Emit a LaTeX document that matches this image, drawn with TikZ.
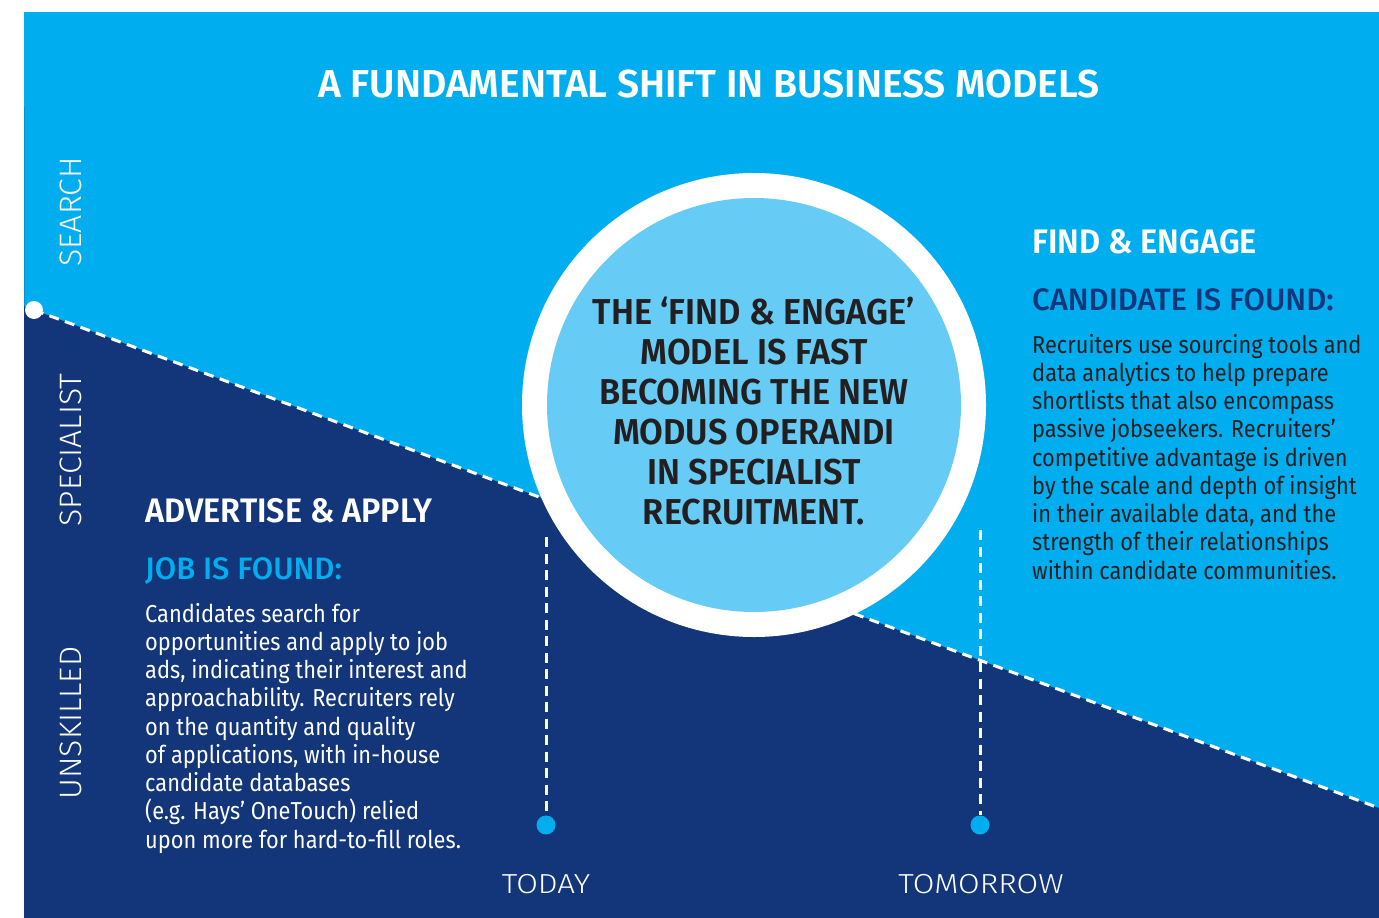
\documentclass[tikz,border=0pt]{standalone}
\usepackage{fontspec}
\setmainfont{Fira Sans}
\newfontfamily\bookfont{Fira Sans}[FakeStretch=0.89]
\newfontfamily\sidefont{Fira Sans Light}[FakeStretch=1.03]
\newfontfamily\timefont{Fira Sans Light}[FakeStretch=1.14]
\newfontfamily\midfont{Fira Sans Medium}
\newfontfamily\headfont{Fira Sans SemiBold}[FakeStretch=0.955]
\newfontfamily\titlefont{Fira Sans SemiBold}

\definecolor{hayssky}{HTML}{00AEEF}
\definecolor{haysnavy}{HTML}{133579}
\definecolor{hayslight}{HTML}{66CCF5}
\definecolor{haysedge}{HTML}{0093D0}
\definecolor{haysink}{HTML}{231F20}

\tikzset{
	heading/.style={anchor=base west,inner sep=0,text=white,font=\headfont\fontsize{34}{34}\selectfont},
	subheading/.style={anchor=base west,inner sep=0,font=\midfont\fontsize{31}{31}\selectfont},
	bodytext/.style={anchor=base west,inner sep=0,font=\bookfont\fontsize{24.5}{24.5}\selectfont},
	sidelabel/.style={anchor=base,rotate=90,inner sep=0,text=white,font=\sidefont\fontsize{31}{31}\selectfont},
	timelabel/.style={anchor=base,inner sep=0,text=white,font=\timefont\fontsize{27.5}{27.5}\selectfont},
	circletext/.style={anchor=base,inner sep=0,text=haysink,font=\headfont\fontsize{36}{36}\selectfont},
	dashline/.style={white,line width=3pt,dash pattern=on 10pt off 6.5pt},
	timedot/.style={circle,fill=hayssky,minimum size=19pt,inner sep=0},
}

\begin{document}
\begin{tikzpicture}[x=1pt,y=-1pt]
\useasboundingbox (0,0) rectangle (1379,918);
\def\rowskip{28.25}
\def\ringx{754}
\def\ringy{405}

% background
\fill[white] (0,0) rectangle (1379,918);
\fill[hayssky] (24,12) rectangle (1379,918);
\draw[haysedge,line width=1pt] (24.5,107) -- (24.5,310);

% the dividing line
\coordinate (start) at (34,310);
\coordinate (finish) at (1379,808);
\fill[haysnavy] (24,306.3) -- (finish) -- (1379,918) -- (24,918) -- cycle;
\draw[dashline] (start) -- (finish);
\fill[white] (start) circle (9pt);

% title
\node[anchor=base,inner sep=0,text=white,font=\titlefont\fontsize{39}{39}\selectfont] (title) at (709,97) {A FUNDAMENTAL SHIFT IN BUSINESS MODELS};

% side labels
\node[sidelabel] (search) at (81,212) {SEARCH};
\node[sidelabel] (specialist) at (81,450) {SPECIALIST};
\node[sidelabel] (unskilled) at (81,723) {UNSKILLED};

% time markers
\node[timedot] (today) at (546,825) {};
\node[timedot] (tomorrow) at (980,825) {};
\coordinate (todaytop) at (546,537);
\coordinate (tomorrowtop) at (980,530);
\draw[dashline] (todaytop) -- (today.north);
\draw[dashline] (tomorrowtop) -- (tomorrow.north);
\node[timelabel] (todaylbl) at (546,893) {TODAY};
\node[timelabel] (tomorrowlbl) at (981,893) {TOMORROW};

% the circle
\node[circle,fill=white,minimum size=464pt,inner sep=0] (ring) at (\ringx,\ringy) {};
\node[circle,fill=hayslight,minimum size=414pt,inner sep=0] (core) at (ring) {};
\foreach \t [count=\i from 0] in {THE ‘FIND \& ENGAGE’, MODEL IS FAST, BECOMING THE NEW, MODUS OPERANDI, IN SPECIALIST, RECRUITMENT.}
	{
	\node[circletext] (c\i) at (\ringx,{324+40*\i}) {\t};
	}

% advertise & apply
\node[heading] (advertise) at (145,522) {ADVERTISE \& APPLY};
\node[subheading,text=hayssky] (jobfound) at (145,579) {JOB IS FOUND:};
\foreach \t [count=\i from 0] in {Candidates search for, opportunities and apply to job, {ads, indicating their interest and}, approachability. Recruiters rely, on the quantity and quality, {of applications, with in-house}, candidate databases, (e.g. Hays’ OneTouch) relied, upon more for hard-to-fill roles.}
	{
	\node[bodytext,text=white] (l\i) at (145,{622+\rowskip*\i}) {\t};
	}

% find & engage
\node[heading] (findengage) at (1032,253) {FIND \& ENGAGE};
\node[subheading,text=haysnavy] (candfound) at (1032,310) {CANDIDATE IS FOUND:};
\foreach \t [count=\i from 0] in {Recruiters use sourcing tools and, data analytics to help prepare, shortlists that also encompass, passive jobseekers. Recruiters’, competitive advantage is driven, by the scale and depth of insight, {in their available data, and the}, strength of their relationships, within candidate communities.}
	{
	\node[bodytext,text=haysink] (r\i) at (1032,{353+\rowskip*\i}) {\t};
	}

\end{tikzpicture}
\end{document}
